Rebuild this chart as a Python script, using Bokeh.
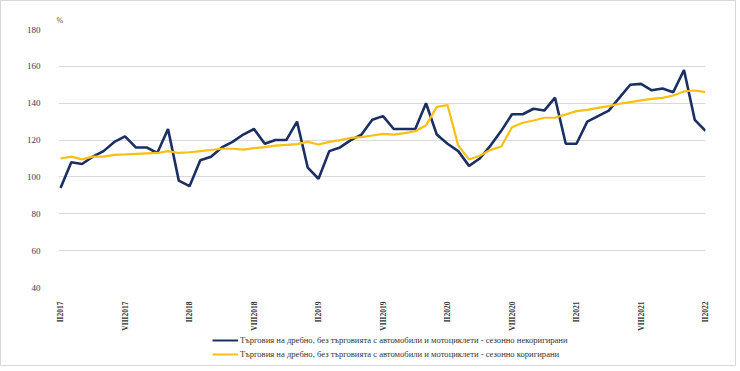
import math
from bokeh.plotting import figure
from bokeh.layouts import column
from bokeh.models import ColumnDataSource, FixedTicker, Legend, LegendItem, Title
from bokeh.embed import file_html
from bokeh.resources import INLINE

# Monthly values, II2017 .. II2022
calendar_adjusted = [94, 108, 107, 111, 114, 119, 122, 116, 116, 113, 126, 98, 95,
                     109, 111, 116, 119, 123, 126, 118, 120, 120, 130, 105, 99,
                     114, 116, 120, 123, 131, 133, 126, 126, 126, 140, 123, 118,
                     114, 106, 110, 117, 125, 134, 134, 137, 136, 143, 118, 118,
                     130, 133, 136, 143, 150, 150.5, 147, 148, 146, 158, 131, 125]
seasonal_adjusted = [110, 111, 109.5, 111, 111, 112, 112.2, 112.5, 112.8, 113, 114, 113, 113.4,
                     114, 114.6, 115.3, 115.3, 114.8, 115.6, 116.2, 117, 117.4, 117.8, 119, 117.6,
                     119, 120, 121.2, 121.6, 122.5, 123.4, 123, 123.8, 124.8, 128, 138, 139,
                     117, 109.5, 111.5, 114.7, 116.5, 127, 129.4, 130.6, 132.1, 132.2, 133.9, 135.7,
                     136.4, 137.5, 138.4, 139.7, 140.6, 141.5, 142.4, 142.9, 144.2, 146.4, 146.9, 146]
tick_labels = ["II2017", "VIII2017", "II2018", "VIII2018", "II2019", "VIII2019",
               "II2020", "VIII2020", "II2021", "VIII2021", "II2022"]
y_ticks = [40, 60, 80, 100, 120, 140, 160, 180]
series_names = [
    "Търговия на дребно, без търговията с автомобили и мотоциклети - сезонно некоригирани",
    "Търговия на дребно, без търговията с автомобили и мотоциклети - сезонно коригирани",
]
colors = ["#1b2f63", "#f9bf12"]
widths = [2.6, 2.2]

idx = list(range(len(calendar_adjusted)))
tick_pos = [i * 6 for i in range(len(tick_labels))]
src = ColumnDataSource(dict(x=idx, a=calendar_adjusted, b=seasonal_adjusted))

p = figure(width=734, height=332, output_backend="svg", toolbar_location=None,
           x_range=(-0.19, 60.0), y_range=(40, 180),
           min_border_left=57, min_border_right=30, min_border_top=28, min_border_bottom=46)
p.outline_line_color = None
p.background_fill_color = "white"
p.border_fill_color = "white"

p.add_layout(Title(text="%", align="left", text_font="Liberation Serif",
                   text_font_size="8px", text_font_style="normal",
                   text_color="#555555", standoff=10, offset=-2), "above")

p.line("x", "a", source=src, line_color=colors[0], line_width=widths[0])
p.line("x", "b", source=src, line_color=colors[1], line_width=widths[1])

p.xgrid.visible = False
p.ygrid.grid_line_color = "#d9d9d9"
p.ygrid.grid_line_width = 1

p.yaxis.ticker = FixedTicker(ticks=y_ticks)
p.yaxis.axis_line_color = None
p.yaxis.major_tick_line_color = None
p.yaxis.minor_tick_line_color = None
p.yaxis.major_label_text_font = "Liberation Serif"
p.yaxis.major_label_text_font_size = "9px"
p.yaxis.major_label_text_color = "#3a3a5a"
p.yaxis.major_label_standoff = 12

p.xaxis.ticker = FixedTicker(ticks=tick_pos)
p.xaxis.major_label_overrides = {t: l for t, l in zip(tick_pos, tick_labels)}
p.xaxis.major_label_orientation = math.pi / 2
p.xaxis.axis_line_color = None
p.xaxis.major_tick_line_color = None
p.xaxis.minor_tick_line_color = None
p.xaxis.major_label_text_font = "Liberation Serif"
p.xaxis.major_label_text_font_size = "7.5px"
p.xaxis.major_label_text_font_style = "bold"
p.xaxis.major_label_text_color = "#333333"
p.xaxis.major_label_standoff = 8

# legend strip (same series drawn, but kept outside this strip's visible range)
p2 = figure(width=734, height=32, output_backend="svg", toolbar_location=None,
            x_range=(0, 1), y_range=(0, 1),
            min_border_left=0, min_border_right=0, min_border_top=0, min_border_bottom=0)
p2.axis.visible = False
p2.grid.visible = False
p2.outline_line_color = None
l1 = p2.line("x", "a", source=src, line_color=colors[0], line_width=2)
l2 = p2.line("x", "b", source=src, line_color=colors[1], line_width=2)
legend = Legend(items=[LegendItem(label=series_names[0], renderers=[l1]),
                       LegendItem(label=series_names[1], renderers=[l2])],
                location=(154, 6), orientation="vertical",
                glyph_width=26, glyph_height=10, label_standoff=2, spacing=4,
                padding=0, margin=0, border_line_color=None, background_fill_alpha=0,
                label_text_font="Liberation Serif", label_text_font_size="8.6px",
                label_text_color="#333333", label_height=10)
p2.add_layout(legend, "center")

layout = column(p, p2, spacing=0)
layout.styles = {"border": "1px solid #d9d9d9"}

open("out.html", "w").write(file_html(layout, INLINE))
